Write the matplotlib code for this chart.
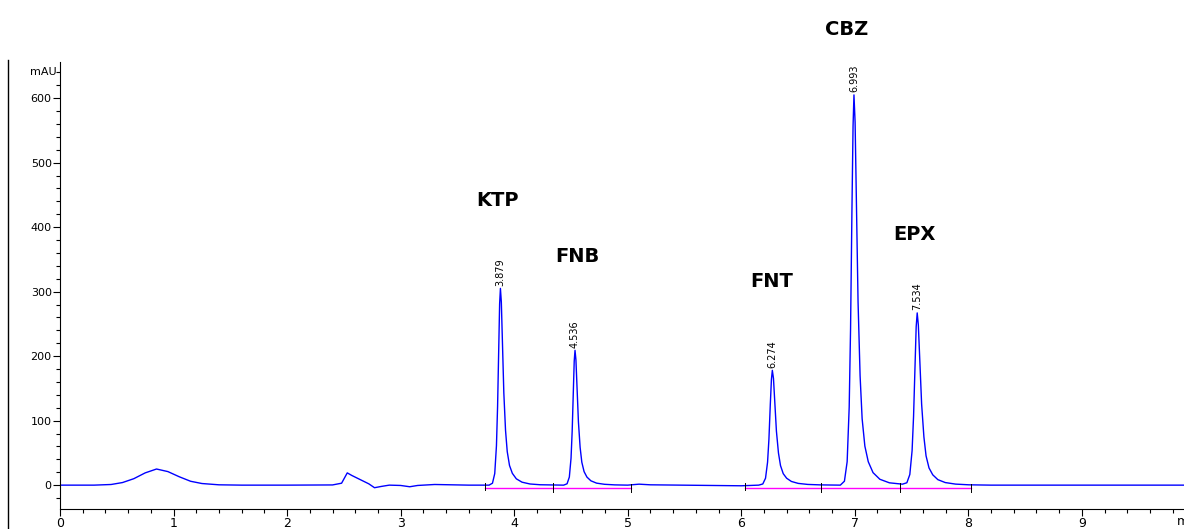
import matplotlib.pyplot as plt
from matplotlib.ticker import MultipleLocator

# trace points (time in min, signal in mAU)
trace_t = [
    0.0, 0.3, 0.45, 0.55, 0.65, 0.75, 0.85, 0.95, 1.05, 1.15, 1.25, 1.4, 1.6,
    2.0, 2.4, 2.48, 2.53, 2.57, 2.65, 2.72, 2.77, 2.83, 2.9, 3.0, 3.08, 3.15, 3.3, 3.45, 3.6,
    # KTP
    3.779, 3.809, 3.829, 3.844, 3.854, 3.864, 3.872, 3.879, 3.887, 3.897, 3.909, 3.924,
    3.939, 3.959, 3.984, 4.019, 4.069, 4.139, 4.229,
    # FNB
    4.436, 4.466, 4.486, 4.501, 4.511, 4.521, 4.529, 4.536, 4.544, 4.554, 4.566, 4.581,
    4.596, 4.616, 4.641, 4.676, 4.726, 4.796, 4.886,
    5.0, 5.1, 5.2, 5.5, 5.9, 6.0, 6.08,
    # FNT
    6.154, 6.190, 6.214, 6.232, 6.244, 6.256, 6.266, 6.274, 6.284, 6.296, 6.310, 6.328,
    6.346, 6.370, 6.400, 6.442, 6.502, 6.586, 6.694,
    # CBZ
    6.873, 6.909, 6.933, 6.951, 6.963, 6.975, 6.985, 6.993, 7.003, 7.015, 7.029, 7.047,
    7.065, 7.089, 7.119, 7.161, 7.221, 7.305,
    # EPX
    7.420, 7.459, 7.485, 7.505, 7.518, 7.531, 7.541, 7.550, 7.560, 7.573, 7.589, 7.609,
    7.628, 7.654, 7.687, 7.732, 7.797, 7.888, 8.005,
    8.2, 9.9,
]
trace_mau = [
    0, 0, 1, 4, 10, 19, 25, 21, 13, 6, 2.5, 0.5, 0,
    0, 0.3, 3, 19, 15, 8, 2, -4, -2, 0, -0.5, -2.5, -0.5, 1, 0.5, 0,
    0, 3, 18, 61, 122, 214, 281, 305, 284, 220, 143, 85,
    52, 30.5, 18.3, 9.8, 4.6, 1.8, 0.6,
    0, 2.1, 12.5, 41.8, 83.6, 146.3, 192.3, 209, 194.4, 150.5, 98.2, 58.5,
    35.5, 20.9, 12.5, 6.7, 3.1, 1.3, 0.4,
    0, 1.5, 0.5, 0, -0.5, -1, -0.5,
    0, 1.8, 10.7, 35.6, 71.2, 124.6, 163.8, 178, 165.5, 128.2, 83.7, 49.8,
    30.3, 17.8, 10.7, 5.7, 2.7, 1.1, 0.4,
    0, 6.1, 36.3, 121, 242, 423.5, 556.6, 605, 562.7, 435.6, 284.4, 169.4,
    102.9, 60.5, 36.3, 19.4, 9.1, 3.6,
    1.5, 3.7, 16.5, 53.4, 106.8, 186.9, 245.6, 267, 248.3, 192.2, 125.5, 74.8,
    45.4, 26.7, 16.0, 8.5, 4.0, 1.6, 0.5,
    0, 0,
]

# integration baselines (start, end) in min
base_start = [3.74, 4.34, 6.03, 6.70, 7.40]
base_end = [4.34, 5.03, 6.70, 7.40, 8.02]
base_level = -4

# peak retention times / heights
peak_rt = [3.879, 4.536, 6.274, 6.993, 7.550]
peak_h = [305, 209, 178, 605, 267]
peak_rt_label = ["3.879", "4.536", "6.274", "6.993", "7.534"]

# compound names and their label positions
names = ["KTP", "FNB", "FNT", "CBZ", "EPX"]
name_x = [3.85, 4.56, 6.27, 6.93, 7.53]
name_y = [442, 355, 316, 707, 388]

fig = plt.figure(figsize=(11.84, 5.29), dpi=100)
ax = fig.add_axes([0.0507, 0.0378, 0.9493, 0.845])

ax.plot(trace_t, trace_mau, color="#0000ff", lw=1.0)

for s, e in zip(base_start, base_end):
    ax.plot([s, e], [base_level, base_level], color="#ff00ff", lw=1.0)
    ax.plot([s, s], [base_level - 4, base_level + 7], color="black", lw=0.7)
    ax.plot([e, e], [base_level - 6, base_level + 5], color="black", lw=0.7)

for rt, h, lab in zip(peak_rt, peak_h, peak_rt_label):
    ax.annotate(lab, (rt, h), xytext=(0, 2), textcoords="offset points",
                rotation=90, ha="center", va="bottom", fontsize=7)

for n, x, y in zip(names, name_x, name_y):
    ax.text(x, y, n, ha="center", va="center", fontsize=14, fontweight="bold",
            clip_on=False)

for side in ["top", "right"]:
    ax.spines[side].set_visible(False)
ax.spines["left"].set_linewidth(0.8)
ax.spines["bottom"].set_linewidth(0.8)

ax.xaxis.set_major_locator(MultipleLocator(1))
ax.xaxis.set_minor_locator(MultipleLocator(0.2))
ax.set_yticks(range(0, 700, 100))
ax.yaxis.set_minor_locator(MultipleLocator(20))
ax.set_xlim(0, 9.9)
ax.set_ylim(-37, 656)
ax.tick_params(axis="both", which="major", direction="out", length=5, width=0.8,
               labelsize=9, pad=1)
ax.tick_params(axis="both", which="minor", direction="out", length=3, width=0.8)
ax.tick_params(axis="y", labelsize=8)

ax.text(-0.03, 640, "mAU", ha="right", va="center", fontsize=8, clip_on=False)
# axis unit, cut off by the right edge as in the original export
ax.text(9.84, -0.013, "min", transform=ax.get_xaxis_transform(), ha="left",
        va="top", fontsize=9, clip_on=False)

# outer frame line on the far left
fig.add_artist(plt.Line2D([0.0068, 0.0068], [0.0, 0.887], color="black", lw=1.0))

fig.savefig("out.png", dpi=100)
